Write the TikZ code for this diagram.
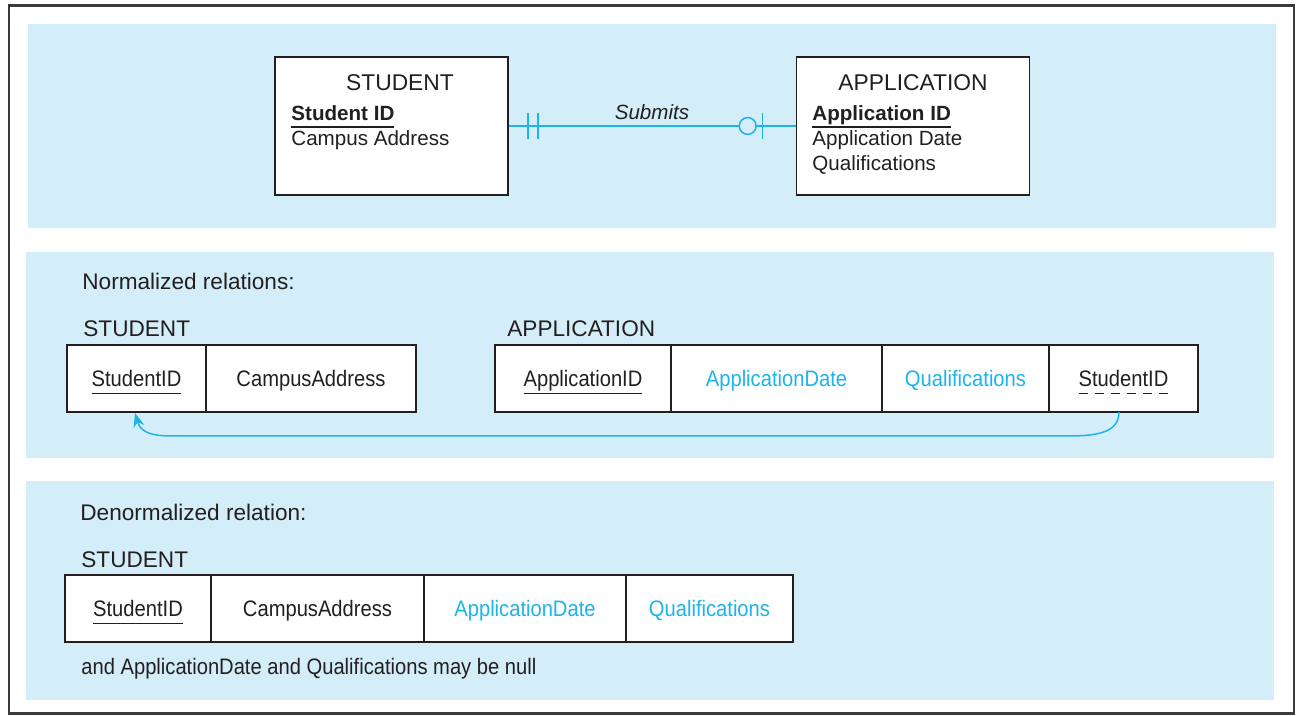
\documentclass[tikz,border=0pt]{standalone}
\usepackage{fontspec}
\setmainfont{Liberation Sans}
\newfontfamily\cellfont[FakeStretch=0.9]{Liberation Sans}
\usetikzlibrary{arrows.meta,calc,positioning}
\definecolor{panelblue}{HTML}{D4EEF9}
\definecolor{linkcyan}{HTML}{1CB4EA}
\definecolor{inkgray}{HTML}{231F20}
\definecolor{framegray}{HTML}{3A3A3A}
% key attributes: solid underline, foreign keys: dashed underline
\newcommand{\pkey}[1]{\setbox0\hbox{#1\vphantom{p}}\vtop{\copy0\kern0.5pt\hrule height 0.7pt}}
\newcommand{\fkdash}{\vrule width 4.6pt height 0.6pt depth 0pt}
\newcommand{\fkey}[1]{\setbox0\hbox{#1}\rlap{\lower3.4pt\hbox to\wd0{\fkdash\hfill\fkdash\hfill\fkdash\hfill\fkdash\hfill\fkdash\hfill\fkdash}}\box0}
\tikzset{
  panel/.style={fill=panelblue,draw=none},
  entity/.style={draw=inkgray,fill=white,line width=0.8pt,minimum width=116.5pt,minimum height=69pt,inner sep=0pt},
  etitle/.style={font=\fontsize{11.4}{13}\selectfont,text=inkgray,anchor=base,inner sep=0pt},
  eattr/.style={font=\fontsize{10.3}{12}\selectfont,text=inkgray,anchor=base west,inner sep=0pt},
  heading/.style={font=\fontsize{11.3}{13}\selectfont,text=inkgray,anchor=base west,inner sep=0pt},
  cell/.style={draw=inkgray,fill=white,line width=0.7pt,minimum height=33.5pt,inner sep=0pt,outer sep=0pt,
    text height=12pt,text depth=3.5pt,text=inkgray,font=\cellfont\fontsize{11.2}{13}\selectfont},
  nonkey/.style={text=linkcyan},
  rel/.style={draw=linkcyan,line width=0.75pt},
  fkarrow/.style={draw=linkcyan,line width=0.75pt,-{Stealth[length=7pt,width=5.5pt]}},
}
\begin{document}
\begin{tikzpicture}[x=0.5pt,y=-0.5pt]
  \useasboundingbox (0,0) rectangle (1298,716);
  \draw[line width=1.25pt,framegray] (9,5.5) rectangle (1294,713.5);
  \fill[panel] (28,24) rectangle (1276,228);
  \fill[panel] (26,252) rectangle (1274,458);
  \fill[panel] (26,481) rectangle (1274,700);

  % E-R diagram
  \node[entity] (stu) at (391.5,126) {};
  \node[entity] (app) at (913,126) {};
  \node[etitle] (stutitle) at (400,91) {STUDENT};
  \node[etitle] (apptitle) at (913,91) {APPLICATION};
  \node[eattr] (stuid) at (291,121) {\pkey{\bfseries Student ID}};
  \node[eattr] (stuaddr) at (291,146) {Campus Address};
  \node[eattr] (appid) at (812,121) {\pkey{\bfseries Application ID}};
  \node[eattr] (appdate) at (812,146) {Application Date};
  \node[eattr] (appqual) at (812,171) {Qualifications};
  \draw[rel] (stu) -- (app);
  \draw[rel] ($(stu.east)+(19,-13)$) -- ++(0,26);
  \draw[rel] ($(stu.east)+(29,-13)$) -- ++(0,26);
  \draw[rel,fill=panelblue] ($(app.west)+(-48,0)$) circle (4.2pt);
  \draw[rel] ($(app.west)+(-33,-13)$) -- ++(0,26);
  \node[font=\itshape\fontsize{10.3}{12}\selectfont,text=inkgray] (submits) at (652,112) {Submits};

  % normalized relations
  \node[heading] (normtitle) at (82,290) {Normalized relations:};
  \node[heading] (normstu) at (83,337) {STUDENT};
  \node[heading] (normapp) at (507,337) {APPLICATION};
  \node[cell,minimum width=69.5pt,anchor=north west] (s1) at (67,345) {\pkey{StudentID}};
  \node[cell,minimum width=105pt,right=0pt of s1] (s2) {CampusAddress};
  \node[cell,minimum width=88pt,anchor=north west] (a1) at (495,345) {\pkey{ApplicationID}};
  \node[cell,nonkey,minimum width=105.5pt,right=0pt of a1] (a2) {ApplicationDate};
  \node[cell,nonkey,minimum width=83.5pt,right=0pt of a2] (a3) {Qualifications};
  \node[cell,minimum width=74.5pt,right=0pt of a3] (a4) {\fkey{StudentID}};
  \draw[fkarrow] ($(a4.south)+(-4.5,0)$) .. controls ($(a4.south)+(-4.5,20)$) and ($(a4.south)+(-25,24)$) .. ($(a4.south)+(-55,24)$)
    -- ($(s1.south)+(36,24)$) .. controls ($(s1.south)+(14,24)$) and ($(s1.south)+(4,20)$) .. ($(s1.south)+(-1.5,1)$);

  % denormalized relation
  \node[heading] (denormtitle) at (80,521) {Denormalized relation:};
  \node[heading] (denormstu) at (81,568) {STUDENT};
  \node[cell,minimum width=73pt,anchor=north west] (d1) at (65,575) {\pkey{StudentID}};
  \node[cell,minimum width=106.5pt,right=0pt of d1] (d2) {CampusAddress};
  \node[cell,nonkey,minimum width=101pt,right=0pt of d2] (d3) {ApplicationDate};
  \node[cell,nonkey,minimum width=83.5pt,right=0pt of d3] (d4) {Qualifications};
  \node[heading,font=\cellfont\fontsize{11.2}{13}\selectfont] (nullnote) at (81,675) {and ApplicationDate and Qualifications may be null};
\end{tikzpicture}
\end{document}
